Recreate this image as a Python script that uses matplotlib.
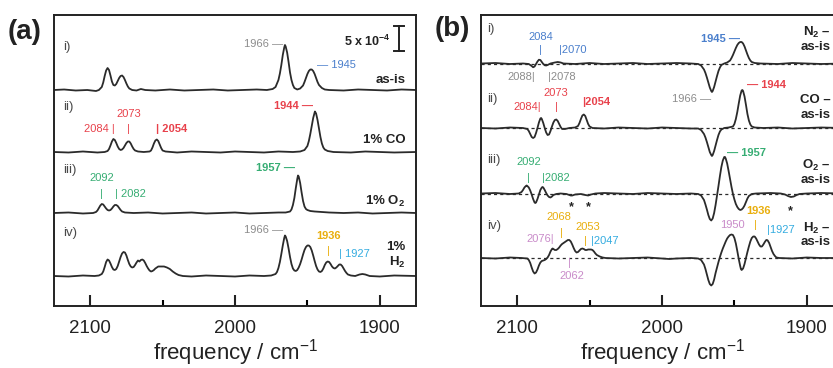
import numpy as np
import matplotlib
matplotlib.use("Agg")
import matplotlib.pyplot as plt

plt.rcParams['font.family'] = ['Liberation Sans', 'DejaVu Sans']
plt.rcParams['mathtext.fontset'] = 'custom'
plt.rcParams['mathtext.rm'] = 'Liberation Sans'
plt.rcParams['mathtext.bf'] = 'Liberation Sans:bold'
plt.rcParams['mathtext.it'] = 'Liberation Sans:italic'

# spectra: (wavenumber / cm-1, absorbance / 1e-4)
# (a) absolute spectra
A_ASIS = [(2125, 0.0), (2118, 0.1), (2110, -0.1), (2102, 0.0), (2096, -0.2), (2094, 0.0),
          (2092, 0.6), (2091, 1.5), (2090, 2.8), (2089, 3.9), (2088, 4.4), (2087, 4.0),
          (2086, 2.9), (2085, 1.7), (2084, 1.0), (2083, 0.9), (2082, 1.2), (2081, 1.8),
          (2080, 2.4), (2079, 2.8), (2078, 2.9), (2077, 2.6), (2076, 2.0), (2075, 1.3),
          (2074, 0.7), (2073, 0.3), (2071, 0.0), (2068, -0.1), (2065, 0.2), (2062, 0.0),
          (2055, -0.1), (2045, 0.1), (2035, -0.1), (2025, 0.0), (2015, 0.1), (2005, -0.1),
          (1995, 0.0), (1985, 0.1), (1978, 0.0), (1974, 0.2), (1972, 0.6), (1970, 2.0),
          (1969, 3.3), (1968, 5.0), (1967, 7.0), (1966, 8.5), (1965.5, 9.0), (1965, 8.7),
          (1964, 7.5), (1963, 5.6), (1962, 3.5), (1961, 2.0), (1960, 1.0), (1959, 0.4),
          (1957, 0.1), (1955, 0.3), (1953, 0.9), (1952, 1.6), (1951, 2.4), (1950, 3.2),
          (1949, 3.8), (1948, 4.1), (1947, 4.1), (1946, 3.8), (1945, 3.2), (1944, 2.4),
          (1943, 1.6), (1942, 1.0), (1940, 0.4), (1938, 0.1), (1935, 0.0), (1925, -0.1),
          (1915, 0.1), (1905, 0.0), (1895, -0.1), (1885, 0.1), (1875, 0.0)]

A_CO = [(2125, 0.0), (2115, -0.1), (2105, 0.1), (2095, -0.1), (2090, 0.0), (2088, 0.2),
        (2087, 0.6), (2086, 1.3), (2085, 2.1), (2084, 2.6), (2083, 2.4), (2082, 1.8),
        (2081, 1.1), (2080, 0.6), (2079, 0.4), (2078, 0.5), (2077, 0.8), (2076, 1.3),
        (2075, 1.8), (2074, 2.1), (2073, 2.1), (2072, 1.7), (2071, 1.1), (2070, 0.6),
        (2069, 0.3), (2067, 0.1), (2063, 0.0), (2059, 0.1), (2058, 0.3), (2057, 0.9),
        (2056, 1.7), (2055, 2.3), (2054, 2.5), (2053, 2.2), (2052, 1.5), (2051, 0.8),
        (2050, 0.3), (2048, 0.1), (2040, -0.1), (2030, 0.1), (2020, 0.0), (2010, -0.1),
        (2000, 0.1), (1990, 0.0), (1980, -0.1), (1970, 0.1), (1960, 0.0), (1955, 0.1),
        (1952, 0.4), (1950, 1.2), (1949, 2.2), (1948, 3.6), (1947, 5.2), (1946, 6.8),
        (1945, 7.9), (1944.8, 8.1), (1944, 7.7), (1943, 6.4), (1942, 4.7), (1941, 3.0),
        (1940, 1.7), (1939, 0.9), (1938, 0.5), (1936, 0.2), (1932, 0.0), (1920, -0.1),
        (1910, 0.1), (1900, 0.0), (1890, -0.1), (1875, 0.0)]

A_O2 = [(2125, 0.0), (2115, 0.1), (2105, -0.1), (2098, 0.0), (2096, 0.2), (2095, 0.5),
        (2094, 1.0), (2093, 1.5), (2092, 1.8), (2091, 1.7), (2090, 1.3), (2089, 0.9),
        (2088, 0.6), (2087, 0.5), (2086, 0.6), (2085, 0.9), (2084, 1.3), (2083, 1.6),
        (2082, 1.6), (2081, 1.4), (2080, 1.0), (2079, 0.6), (2078, 0.3), (2076, 0.1),
        (2070, 0.0), (2060, 0.1), (2050, -0.1), (2040, 0.0), (2030, 0.1), (2020, -0.1),
        (2010, 0.0), (2000, 0.1), (1990, -0.1), (1980, 0.0), (1970, 0.1), (1965, 0.1),
        (1962, 0.3), (1961, 0.7), (1960, 1.6), (1959, 3.0), (1958, 5.0), (1957, 6.8),
        (1956.5, 7.5), (1956, 7.3), (1955, 6.0), (1954, 4.1), (1953, 2.4), (1952, 1.3),
        (1951, 0.8), (1950, 0.6), (1948, 0.4), (1945, 0.3), (1940, 0.2), (1935, 0.1),
        (1925, 0.0), (1915, 0.1), (1905, -0.1), (1895, 0.0), (1885, 0.1), (1875, 0.0)]

A_H2 = [(2125, 0.0), (2115, -0.1), (2105, 0.1), (2097, 0.0), (2094, 0.1), (2092, 0.4),
        (2091, 0.9), (2090, 1.8), (2089, 2.8), (2088, 3.3), (2087, 3.1), (2086, 2.5),
        (2085, 1.8), (2084, 1.3), (2083, 1.2), (2082, 1.4), (2081, 2.0), (2080, 2.9),
        (2079, 3.8), (2078, 4.5), (2077, 4.8), (2076, 4.7), (2075, 4.1), (2074, 3.2),
        (2073, 2.4), (2072, 1.9), (2071, 1.7), (2070, 1.8), (2069, 2.2), (2068, 2.7),
        (2067, 3.1), (2066, 2.9), (2065, 3.2), (2064, 3.3), (2063, 3.1), (2062, 2.6),
        (2061, 2.0), (2060, 1.5), (2059, 1.1), (2058, 0.9), (2057, 1.0), (2056, 1.2),
        (2055, 1.5), (2054, 1.7), (2053, 1.9), (2051, 1.9), (2049, 1.9), (2047, 1.7),
        (2045, 1.4), (2043, 0.9), (2041, 0.5), (2039, 0.2), (2036, 0.0), (2030, -0.1),
        (2020, 0.1), (2010, 0.0), (2000, -0.1), (1990, 0.1), (1980, 0.0), (1975, 0.1),
        (1972, 0.4), (1971, 0.8), (1970, 1.6), (1969, 2.8), (1968, 4.4), (1967, 6.1),
        (1966, 7.6), (1965.5, 8.1), (1965, 7.9), (1964, 7.0), (1963, 5.5), (1962, 3.8),
        (1961, 2.4), (1960, 1.5), (1959, 1.1), (1958, 1.0), (1957, 1.2), (1956, 1.7),
        (1955, 2.4), (1954, 3.3), (1953, 4.3), (1952, 5.2), (1951, 5.8), (1950, 6.1),
        (1949, 6.1), (1948, 5.8), (1947, 5.1), (1946, 4.1), (1945, 3.0), (1944, 2.0),
        (1943, 1.3), (1942, 0.9), (1941, 0.8), (1940, 1.0), (1939, 1.5), (1938, 2.2),
        (1937, 2.7), (1936, 2.9), (1935, 2.8), (1934, 2.4), (1933, 1.9), (1932, 1.6),
        (1931, 1.5), (1930, 1.7), (1929, 2.0), (1928, 2.3), (1927, 2.3), (1926, 2.0),
        (1925, 1.5), (1924, 1.0), (1923, 0.6), (1922, 0.3), (1920, 0.1), (1917, 0.0),
        (1914, 0.3), (1912, 0.4), (1910, 0.3), (1907, 0.0), (1900, -0.1), (1890, 0.1),
        (1875, 0.0)]

# (b) difference spectra (gas - as-is)
B_N2 = [(2125, 0.0), (2115, 0.1), (2105, -0.1), (2096, 0.0), (2092, -0.1), (2090, -0.5),
        (2089, -0.75), (2088, -0.6), (2087, -0.1), (2086, 0.4), (2085, 0.75), (2084, 0.7),
        (2083, 0.3), (2082, -0.1), (2081, -0.35), (2080, -0.4), (2079, -0.3), (2077, 0.0),
        (2074, 0.2), (2072, 0.3), (2070, 0.2), (2068, 0.0), (2060, -0.1), (2050, 0.1),
        (2040, -0.1), (2030, 0.0), (2020, 0.1), (2010, -0.1), (2000, 0.0), (1990, 0.1),
        (1980, 0.0), (1975, -0.1), (1973, -0.4), (1971, -1.2), (1970, -1.9), (1969, -2.8),
        (1968, -3.8), (1967, -4.8), (1966, -5.5), (1965.5, -5.7), (1965, -5.5), (1964, -4.7),
        (1963, -3.6), (1962, -2.5), (1961, -1.5), (1960, -0.8), (1959, -0.3), (1957, 0.0),
        (1955, 0.2), (1953, 0.6), (1952, 1.1), (1951, 1.7), (1950, 2.4), (1949, 3.1),
        (1948, 3.7), (1947, 4.1), (1946, 4.3), (1945, 4.3), (1944, 4.0), (1943, 3.4),
        (1942, 2.6), (1941, 1.8), (1940, 1.1), (1939, 0.6), (1938, 0.3), (1936, 0.1),
        (1932, 0.0), (1920, -0.1), (1910, 0.1), (1900, 0.0), (1890, -0.1), (1875, 0.0)]

B_CO = [(2125, 0.0), (2115, -0.1), (2105, 0.1), (2096, 0.0), (2093, -0.2), (2092, -0.6),
        (2091, -1.2), (2090, -1.8), (2089, -2.0), (2088, -1.8), (2087, -1.0), (2086, 0.0),
        (2085, 1.1), (2084, 1.9), (2083.5, 2.0), (2083, 1.8), (2082, 1.0), (2081, 0.0),
        (2080, -0.9), (2079, -1.4), (2078, -1.3), (2077, -0.6), (2076, 0.3), (2075, 1.1),
        (2074, 1.6), (2073, 1.7), (2072, 1.4), (2071, 0.8), (2070, 0.2), (2069, -0.2),
        (2067, -0.2), (2064, 0.0), (2060, 0.1), (2058, 0.4), (2057, 1.0), (2056, 1.8),
        (2055, 2.5), (2054, 2.7), (2053, 2.4), (2052, 1.6), (2051, 0.8), (2050, 0.3),
        (2048, 0.0), (2040, -0.1), (2030, 0.1), (2020, 0.0), (2010, -0.1), (2000, 0.1),
        (1990, 0.0), (1980, -0.1), (1975, -0.1), (1973, -0.4), (1971, -1.2), (1970, -1.9),
        (1969, -2.8), (1968, -3.8), (1967, -4.8), (1966, -5.4), (1965.5, -5.6), (1965, -5.4),
        (1964, -4.6), (1963, -3.5), (1962, -2.4), (1961, -1.4), (1960, -0.7), (1959, -0.3),
        (1957, 0.0), (1954, 0.1), (1951, 0.3), (1950, 0.8), (1949, 1.8), (1948, 3.2),
        (1947, 4.9), (1946, 6.5), (1945, 7.5), (1944.5, 7.6), (1944, 7.4), (1943, 6.3),
        (1942, 4.6), (1941, 2.8), (1940, 1.5), (1939, 0.7), (1938, 0.3), (1936, 0.1),
        (1930, 0.0), (1920, 0.1), (1910, -0.1), (1900, 0.0), (1890, 0.1), (1875, 0.0)]

B_O2 = [(2125, 0.0), (2115, 0.1), (2105, -0.1), (2099, 0.0), (2097, 0.3), (2096, 0.7),
        (2095, 1.2), (2094, 1.5), (2093.5, 1.6), (2093, 1.5), (2092, 1.2), (2091, 0.6),
        (2090, -0.2), (2089, -1.1), (2088, -1.8), (2087.5, -1.9), (2087, -1.8), (2086, -1.1),
        (2085, -0.2), (2084, 0.7), (2083, 1.2), (2082.5, 1.3), (2082, 1.2), (2081, 0.7),
        (2080, 0.1), (2079, -0.4), (2078, -0.7), (2077, -0.8), (2076, -0.6), (2075, -0.3),
        (2073, -0.1), (2070, 0.0), (2066, -0.1), (2063, -0.4), (2062, -0.4), (2060, -0.2),
        (2056, -0.1), (2053, -0.3), (2051, -0.4), (2049, -0.2), (2046, 0.0), (2040, 0.1),
        (2030, 0.0), (2020, -0.1), (2010, 0.1), (2000, 0.0), (1990, -0.1), (1980, 0.0),
        (1975, -0.1), (1973, -0.4), (1971, -1.3), (1970, -2.2), (1969, -3.2), (1968, -4.3),
        (1967, -5.1), (1966, -5.4), (1965, -5.0), (1964, -3.9), (1963, -2.3), (1962, -0.4),
        (1961, 1.5), (1960, 3.5), (1959, 5.3), (1958, 6.6), (1957, 7.3), (1956.5, 7.3),
        (1956, 7.0), (1955, 6.0), (1954, 4.5), (1953, 2.9), (1952, 1.3), (1951, -0.1),
        (1950, -1.2), (1949, -2.1), (1948, -2.7), (1947, -3.1), (1946, -3.3), (1945, -3.2),
        (1944, -2.9), (1943, -2.4), (1942, -1.7), (1941, -1.0), (1940, -0.5), (1938, -0.1),
        (1935, 0.0), (1925, 0.1), (1918, 0.0), (1915, -0.2), (1913, -0.5), (1911, -0.7),
        (1909, -0.6), (1907, -0.3), (1905, -0.1), (1900, 0.0), (1890, 0.1), (1875, 0.0)]

B_H2 = [(2125, 0.0), (2115, -0.1), (2105, 0.1), (2097, 0.0), (2093, -0.1), (2092, -0.4),
        (2091, -1.0), (2090, -1.9), (2089, -2.7), (2088, -3.1), (2087, -2.9), (2086, -2.3),
        (2085, -1.5), (2084, -0.9), (2083, -0.6), (2082, -0.5), (2081, -0.4), (2080, -0.2),
        (2079, 0.1), (2078, 0.6), (2077, 1.3), (2076, 1.8), (2075.5, 1.9), (2075, 1.8),
        (2074, 1.6), (2073, 1.6), (2072, 1.8), (2071, 2.1), (2070, 2.5), (2069, 2.8),
        (2068, 3.0), (2067, 3.2), (2066, 3.4), (2065, 3.6), (2064, 3.6), (2063, 3.3),
        (2062, 2.7), (2061, 2.0), (2060, 1.4), (2059, 1.1), (2058, 1.2), (2057, 1.5),
        (2056, 1.8), (2055, 1.9), (2054, 1.8), (2053, 1.6), (2052, 1.6), (2051, 1.7),
        (2050, 1.7), (2049, 1.7), (2048, 1.6), (2047, 1.3), (2046, 0.9), (2045, 0.6),
        (2043, 0.3), (2041, 0.1), (2039, 0.0), (2030, -0.1), (2020, 0.0), (2010, 0.1),
        (2000, -0.1), (1995, -0.2), (1990, -0.1), (1980, 0.0), (1975, -0.1), (1973, -0.4),
        (1971, -1.3), (1970, -2.2), (1969, -3.3), (1968, -4.4), (1967, -5.2), (1966, -5.5),
        (1965, -5.2), (1964, -4.3), (1963, -3.0), (1962, -1.9), (1961, -0.8), (1960, 0.2),
        (1959, 1.1), (1958, 1.9), (1957, 2.6), (1956, 3.3), (1955, 3.9), (1954, 4.3),
        (1953, 4.6), (1952, 4.7), (1951, 4.6), (1950, 4.0), (1949, 2.9), (1948, 1.4),
        (1947, -0.2), (1946, -1.6), (1945.5, -2.2), (1945, -2.4), (1944, -2.1), (1943, -1.2),
        (1942, 0.0), (1941, 1.2), (1940, 2.3), (1939, 3.3), (1938, 4.0), (1937, 4.3),
        (1936, 4.3), (1935, 3.9), (1934, 3.3), (1933, 2.7), (1932, 2.3), (1931, 2.3),
        (1930, 2.7), (1929, 3.2), (1928, 3.6), (1927.5, 3.6), (1927, 3.5), (1926, 3.0),
        (1925, 2.2), (1924, 1.4), (1923, 0.8), (1922, 0.4), (1921, 0.1), (1919, 0.0),
        (1910, -0.1), (1900, 0.1), (1890, 0.0), (1875, 0.0)]

TRACES_A = [A_ASIS, A_CO, A_O2, A_H2]
TRACES_B = [B_N2, B_CO, B_O2, B_H2]
OFFS_A = [43.2, 30.8, 18.6, 6.0]
OFFS_B = [48.5, 35.6, 22.5, 9.6]
XTICKS = [2100, 2000, 1900]
XMINOR = [2050, 1950]

LINE = '#2b2b2b'
GRAY = '#8c8c8c'
BLUE = '#4a7fcc'
RED = '#e8414b'
GREEN = '#36ad73'
ORANGE = '#e9ae0c'
CYAN = '#34ace0'
PINK = '#c98bc9'
DARK = '#222222'
ROMAN = '#4a4a4a'

fig = plt.figure(figsize=(8.33, 3.68), dpi=100)
ax_a = fig.add_axes([54 / 833, 62 / 368, 362 / 833, 291 / 368])
ax_b = fig.add_axes([481 / 833, 62 / 368, 362 / 833, 291 / 368])


def style(ax):
    ax.set_xlim(2125, 1875)
    ax.set_ylim(0, 58.2)
    ax.set_yticks([])
    ax.set_xticks(XTICKS)
    ax.set_xticks(XMINOR, minor=True)
    ax.tick_params(axis='x', which='major', direction='in', length=8, width=1.5,
                   labelsize=13.5, pad=10, colors=DARK)
    ax.tick_params(axis='x', which='minor', direction='in', length=4.5, width=1.5)
    for s in ax.spines.values():
        s.set_linewidth(1.4)
        s.set_color(DARK)
    ax.set_xlabel('frequency / cm$^{-1}$', fontsize=16, color=DARK, labelpad=0)


def note(ax, f, y, s, c, ha='left', bold=False, size=8):
    ax.text(f, y, s, color=c, ha=ha, va='center', fontsize=size,
            fontweight='bold' if bold else 'normal', clip_on=False)


for ax in (ax_a, ax_b):
    style(ax)

for pts, off in zip(TRACES_A, OFFS_A):
    f, a = np.array(pts).T
    ax_a.plot(f, a + off, color=LINE, lw=1.3)

for pts, off in zip(TRACES_B, OFFS_B):
    ax_b.axhline(off, color=LINE, lw=0.9, ls=(0, (2.5, 2.5)))
    f, a = np.array(pts).T
    ax_b.plot(f, a + off, color=LINE, lw=1.3)

# scale bar 5 x 10^-4
ax_a.plot([1887, 1887], [51.0, 56.0], color=DARK, lw=1.4)
ax_a.plot([1890.5, 1883.5], [51.0, 51.0], color=DARK, lw=1.4)
ax_a.plot([1890.5, 1883.5], [56.0, 56.0], color=DARK, lw=1.4)
note(ax_a, 1892.5, 53.0, '5 x 10$^{\\mathbf{-4}}$', DARK, 'right', True, 9)

# panel (a) labels
for y, s in zip([51.9, 39.8, 27.2, 14.6], ['i)', 'ii)', 'iii)', 'iv)']):
    note(ax_a, 2119, y, s, ROMAN, size=9.5)
note(ax_a, 1966.5, 52.4, '1966 \u2014', GRAY, 'right')
note(ax_a, 1943.5, 48.2, '\u2014 1945', BLUE)
note(ax_a, 1882.5, 45.2, 'as-is', DARK, 'right', True, 9.5)
note(ax_a, 2073.3, 38.4, '2073', RED, 'center')
note(ax_a, 2083.3, 35.4, '2084 |', RED, 'right')
note(ax_a, 2073.3, 35.4, '|', RED, 'center')
note(ax_a, 2054.8, 35.4, '| 2054', RED, 'left', True)
note(ax_a, 1946.3, 40.0, '1944 \u2014', RED, 'right', True)
note(ax_a, 1882.5, 33.2, '1% CO', DARK, 'right', True, 9.5)
note(ax_a, 1958.8, 27.6, '1957 \u2014', GREEN, 'right', True)
note(ax_a, 2092, 25.6, '2092', GREEN, 'center')
note(ax_a, 2092, 22.4, '|', GREEN, 'center')
note(ax_a, 2083, 22.4, '| 2082', GREEN)
note(ax_a, 1882.5, 21.0, '1% O$_\\mathbf{2}$', DARK, 'right', True, 9.5)
note(ax_a, 1966.5, 15.2, '1966 \u2014', GRAY, 'right')
note(ax_a, 1935.5, 14.0, '1936', ORANGE, 'center', True)
note(ax_a, 1935.8, 11.0, '|', ORANGE, 'center')
note(ax_a, 1928.2, 10.4, '| 1927', CYAN)
note(ax_a, 1882.5, 11.8, '1%', DARK, 'right', True, 9.5)
note(ax_a, 1882.5, 8.8, 'H$_\\mathbf{2}$', DARK, 'right', True, 9.5)

# panel (b) labels; the gas names sit flush with the right edge of the figure
EDGE = 1883.3
for y, s in zip([55.4, 41.4, 29.2, 15.9], ['i)', 'ii)', 'iii)', 'iv)']):
    note(ax_b, 2121, y, s, ROMAN, size=9.5)
note(ax_b, 2084, 53.9, '2084', BLUE, 'center')
note(ax_b, 2084, 51.2, '|', BLUE, 'center')
note(ax_b, 2071, 51.2, '|2070', BLUE)
note(ax_b, 2087.3, 45.8, '2088|', GRAY, 'right')
note(ax_b, 2079, 45.8, '|2078', GRAY)
note(ax_b, 1946.4, 53.5, '1945 \u2014', BLUE, 'right', True)
note(ax_b, EDGE, 54.8, 'N$_\\mathbf{2}$ \u2013', DARK, 'right', True, 9.5)
note(ax_b, EDGE, 51.8, 'as-is', DARK, 'right', True, 9.5)

note(ax_b, 2073, 42.7, '2073', RED, 'center')
note(ax_b, 2083.3, 39.8, '2084|', RED, 'right')
note(ax_b, 2073, 39.8, '|', RED, 'center')
note(ax_b, 2055, 40.8, '|2054', RED, 'left', True)
note(ax_b, 1965.9, 41.4, '1966 \u2014', GRAY, 'right')
note(ax_b, 1941, 44.3, '\u2014 1944', RED, 'left', True)
note(ax_b, EDGE, 41.2, 'CO \u2013', DARK, 'right', True, 9.5)
note(ax_b, EDGE, 38.2, 'as-is', DARK, 'right', True, 9.5)

note(ax_b, 2092, 28.9, '2092', GREEN, 'center')
note(ax_b, 2092, 25.7, '|', GREEN, 'center')
note(ax_b, 2083, 25.7, '|2082', GREEN)
note(ax_b, 1955.3, 30.6, '\u2014 1957', GREEN, 'left', True)
note(ax_b, EDGE, 28.2, 'O$_\\mathbf{2}$ \u2013', DARK, 'right', True, 9.5)
note(ax_b, EDGE, 25.2, 'as-is', DARK, 'right', True, 9.5)
for f, y in [(2062.4, 19.8), (2051, 19.8), (1911, 19.0)]:
    note(ax_b, f, y, '*', DARK, 'center', True, 9)

note(ax_b, 2071.5, 17.8, '2068', ORANGE, 'center')
note(ax_b, 2069.4, 14.6, '|', ORANGE, 'center')
note(ax_b, 2051, 15.8, '2053', ORANGE, 'center')
note(ax_b, 2074.8, 13.4, '2076|', PINK, 'right')
note(ax_b, 2053.2, 13.1, '|', ORANGE, 'center')
note(ax_b, 2049.3, 13.1, '|2047', CYAN)
note(ax_b, 2063.6, 8.7, '|', PINK, 'center')
note(ax_b, 2062.4, 6.0, '2062', PINK, 'center')
note(ax_b, 1943, 16.1, '1950', PINK, 'right')
note(ax_b, 1933.2, 19.1, '1936', ORANGE, 'center', True)
note(ax_b, 1935.5, 16.2, '|', ORANGE, 'center')
note(ax_b, 1927.8, 15.2, '|1927', CYAN)
note(ax_b, EDGE, 15.5, 'H$_\\mathbf{2}$ \u2013', DARK, 'right', True, 9.5)
note(ax_b, EDGE, 12.8, 'as-is', DARK, 'right', True, 9.5)

fig.text(25 / 833, 1 - 32 / 368, '(a)', fontsize=20, fontweight='bold', color=DARK,
         ha='center', va='center')
fig.text(452 / 833, 1 - 29 / 368, '(b)', fontsize=20, fontweight='bold', color=DARK,
         ha='center', va='center')

fig.savefig('out.png', dpi=100)
